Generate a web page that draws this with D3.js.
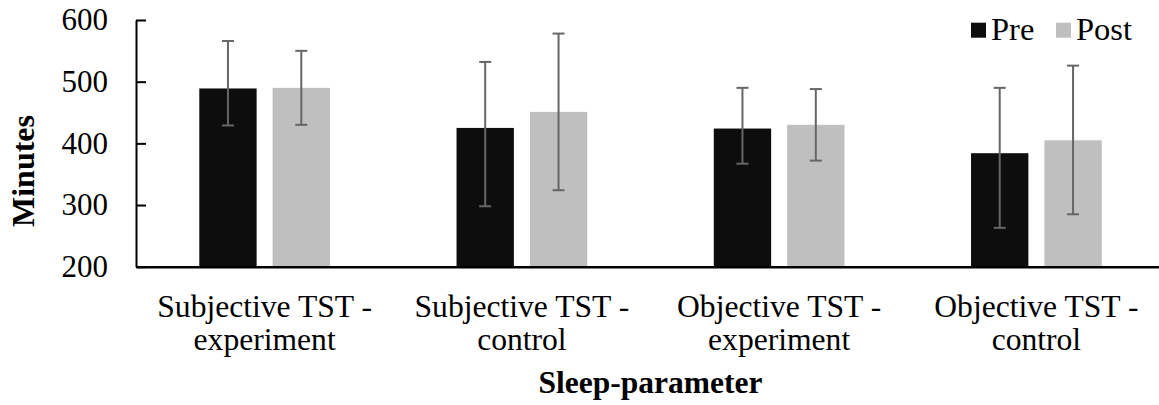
<!DOCTYPE html>
<html>
<head>
<meta charset="utf-8">
<script src="https://cdn.jsdelivr.net/npm/d3@7"></script>
<style>
  html, body { margin: 0; padding: 0; background: #fff; }
  svg { display: block; }
  svg text { font-family: "Liberation Serif", "Times New Roman", Times, "DejaVu Serif", serif !important; fill: #000; }
</style>
</head>
<body>
<svg id="chart" width="1159" height="405"></svg>
<script>
// ---- data ----
const categories = ["Subjective TST - experiment", "Subjective TST - control", "Objective TST - experiment", "Objective TST - control"];
const categoryLines = [["Subjective TST -", "experiment"], ["Subjective TST -", "control"], ["Objective TST -", "experiment"], ["Objective TST -", "control"]];
const seriesNames = ["Pre", "Post"];
const preValues = [489, 425, 424, 384];
const postValues = [490, 451, 430, 405];
const preUpper = [566, 532, 490, 490];
const preLower = [429, 298, 367, 263];
const postUpper = [550, 578, 488, 526];
const postLower = [430, 324, 372, 285];
const yTicks = [200, 300, 400, 500, 600];
const yTitle = "Minutes";
const xTitle = "Sleep-parameter";

const colors = { Pre: "#0d0d0d", Post: "#bfbfbf" };
const FONT = '"Liberation Serif", "Times New Roman", Times, "DejaVu Serif", serif';

const rows = categories.map((c, i) => ({
  cat: c,
  lines: categoryLines[i],
  vals: [
    { s: "Pre", v: preValues[i], hi: preUpper[i], lo: preLower[i] },
    { s: "Post", v: postValues[i], hi: postUpper[i], lo: postLower[i] }
  ]
}));

const svg = d3.select("#chart");
const mLeft = 136, mRight = 1165, mTop = 20, mBottom = 266.7;

const x0 = d3.scaleBand().domain(categories).range([mLeft, mRight]).paddingInner(0.492).paddingOuter(0.246);
const x1 = d3.scaleBand().domain(seriesNames).range([0, x0.bandwidth()]).paddingInner(0.218);
const y = d3.scaleLinear().domain([200, 600]).range([mBottom, mTop]);

// bars
const g = svg.append("g");
const groups = g.selectAll("g.grp").data(rows).join("g")
  .attr("transform", d => `translate(${x0(d.cat)},0)`);
groups.selectAll("rect").data(d => d.vals).join("rect")
  .attr("x", d => x1(d.s))
  .attr("width", x1.bandwidth())
  .attr("y", d => y(d.v))
  .attr("height", d => y(200) - y(d.v))
  .attr("fill", d => colors[d.s]);

// error bars
const eb = groups.selectAll("g.eb").data(d => d.vals).join("g").attr("class", "eb")
  .attr("stroke", "#666666").attr("stroke-width", 2);
eb.append("line")
  .attr("x1", d => x1(d.s) + x1.bandwidth() / 2).attr("x2", d => x1(d.s) + x1.bandwidth() / 2)
  .attr("y1", d => y(d.hi)).attr("y2", d => y(d.lo));
eb.append("line")
  .attr("x1", d => x1(d.s) + x1.bandwidth() / 2 - 6).attr("x2", d => x1(d.s) + x1.bandwidth() / 2 + 6)
  .attr("y1", d => y(d.hi)).attr("y2", d => y(d.hi));
eb.append("line")
  .attr("x1", d => x1(d.s) + x1.bandwidth() / 2 - 6).attr("x2", d => x1(d.s) + x1.bandwidth() / 2 + 6)
  .attr("y1", d => y(d.lo)).attr("y2", d => y(d.lo));

// y axis
const yAxis = svg.append("g").attr("transform", `translate(${mLeft},0)`)
  .call(d3.axisLeft(y).tickValues(yTicks).tickSizeInner(-10).tickSizeOuter(0).tickPadding(28).tickFormat(d3.format("d")));
yAxis.attr("font-family", FONT);
yAxis.select(".domain").attr("stroke", "#000").attr("stroke-width", 2);
yAxis.selectAll(".tick line").attr("stroke", "#000").attr("stroke-width", 2);
yAxis.selectAll(".tick text").attr("font-size", 31).attr("font-family", FONT).attr("fill", "#000");

// x axis
const xAxis = svg.append("g").attr("transform", `translate(0,${mBottom})`)
  .call(d3.axisBottom(x0).tickSize(0).tickFormat(""));
xAxis.attr("font-family", FONT);
xAxis.select(".domain").attr("stroke", "#000").attr("stroke-width", 2.5);
xAxis.selectAll(".tick").each(function (d, i) {
  const t = d3.select(this).append("text")
    .attr("text-anchor", "middle").attr("font-size", 31.6)
    .attr("font-family", FONT).attr("fill", "#000");
  categoryLines[i].forEach((ln, k) => {
    t.append("tspan").attr("x", 0).attr("y", 50.5 + k * 33).text(ln);
  });
});

// titles
svg.append("text").attr("x", (mLeft + mRight) / 2).attr("y", 393).attr("font-family", FONT)
  .attr("text-anchor", "middle").attr("font-size", 31.5).attr("font-weight", "bold").text(xTitle);
svg.append("text").attr("transform", "translate(34,171) rotate(-90)").attr("font-family", FONT)
  .attr("text-anchor", "middle").attr("font-size", 32).attr("font-weight", "bold").text(yTitle);

// legend
const legend = svg.append("g");
const legendX = [971, 1056];
seriesNames.forEach((s, i) => {
  legend.append("rect").attr("x", legendX[i]).attr("y", 22.7).attr("width", 15).attr("height", 15).attr("fill", colors[s]);
  legend.append("text").attr("x", legendX[i] + 20).attr("y", 39.5).attr("font-family", FONT).attr("font-size", 32.5).text(s);
});
</script>
</body>
</html>
